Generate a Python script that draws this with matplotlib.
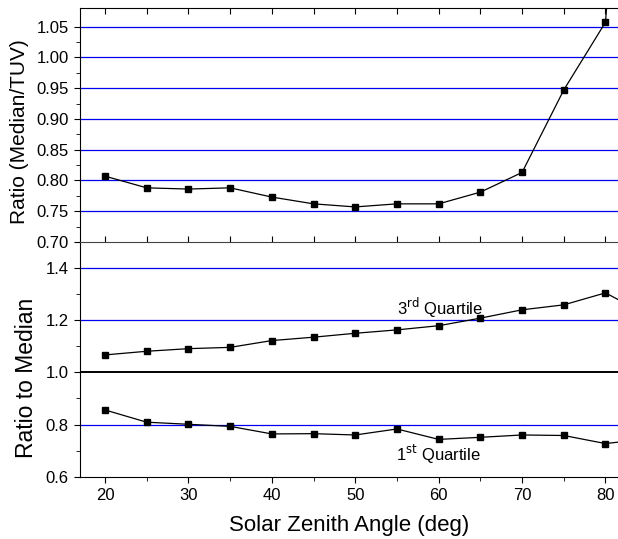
import matplotlib
matplotlib.use('Agg')
import matplotlib.pyplot as plt

plt.rcParams['font.family'] = ['Liberation Sans', 'DejaVu Sans']

sza = [20, 25, 30, 35, 40, 45, 50, 55, 60, 65, 70, 75, 80, 85]
ratio_tuv = [0.807, 0.788, 0.786, 0.788, 0.773, 0.762, 0.757, 0.762, 0.762,
             0.781, 0.813, 0.947, 1.057, 1.93]
q3 = [1.067, 1.081, 1.091, 1.096, 1.122, 1.135, 1.150, 1.163, 1.179,
      1.208, 1.240, 1.259, 1.305, 1.22]
q1 = [0.856, 0.809, 0.801, 0.793, 0.764, 0.765, 0.760, 0.783, 0.743,
      0.751, 0.760, 0.758, 0.727, 0.745]

top_grid = [0.75, 0.80, 0.85, 0.90, 0.95, 1.00, 1.05]
bot_grid = [0.8, 1.2, 1.4]

fig = plt.figure(figsize=(6.18, 5.39), dpi=100)
ax2 = fig.add_axes([0.1294, 0.1156, 0.8706, 0.4354])
ax1 = fig.add_axes([0.1294, 0.551, 0.8706, 0.434])
ax1.patch.set_alpha(0)

xlim = (17, 81.5)

# top panel
for g in top_grid:
    ax1.axhline(g, color='#0000ee', lw=0.9, zorder=1)
ax1.plot(sza, ratio_tuv, color='black', lw=0.9, marker='s', ms=5, zorder=3)
ax1.set_xlim(*xlim)
ax1.set_ylim(0.70, 1.08)
ax1.set_yticks([0.70, 0.75, 0.80, 0.85, 0.90, 0.95, 1.00, 1.05])
ax1.set_yticklabels(['%.2f' % v for v in ax1.get_yticks()])
ax1.set_yticks([0.725 + 0.05 * i for i in range(7)], minor=True)
ax1.set_xticks(range(20, 85, 5))
ax1.tick_params(axis='x', which='both', direction='in', top=True, bottom=True,
                labelbottom=False, length=4)
ax1.tick_params(axis='y', which='major', direction='out', length=4.5, labelsize=12)
ax1.tick_params(axis='y', which='minor', direction='out', length=3)
ax1.spines['right'].set_visible(False)
ax1.spines['bottom'].set_color('#444444')
ax1.set_ylabel('Ratio (Median/TUV)', fontsize=15)
ax1.yaxis.set_label_coords(-0.094, 0.474)

# bottom panel
for g in bot_grid:
    ax2.axhline(g, color='#0000ee', lw=0.9, zorder=1)
ax2.axhline(1.0, color='black', lw=1.4, zorder=1)
ax2.plot(sza, q3, color='black', lw=0.9, marker='s', ms=5, zorder=3)
ax2.plot(sza, q1, color='black', lw=0.9, marker='s', ms=5, zorder=3)
ax2.set_xlim(*xlim)
ax2.set_ylim(0.6, 1.5)
ax2.set_yticks([0.6, 0.8, 1.0, 1.2, 1.4])
ax2.set_yticks([0.7, 0.9, 1.1, 1.3], minor=True)
ax2.set_xticks([20, 30, 40, 50, 60, 70, 80])
ax2.set_xticks([25, 35, 45, 55, 65, 75], minor=True)
ax2.tick_params(which='major', direction='out', length=4.5, labelsize=12)
ax2.tick_params(which='minor', direction='out', length=3)
ax2.spines['right'].set_visible(False)
ax2.spines['top'].set_visible(False)
ax2.set_ylabel('Ratio to Median', fontsize=16.5)
ax2.yaxis.set_label_coords(-0.078, 0.42)
ax2.set_xlabel('Solar Zenith Angle (deg)', fontsize=16, labelpad=9)

ax2.text(60.2, 1.247, '3$^{\\mathrm{rd}}$ Quartile', fontsize=12,
         ha='center', va='center')
ax2.text(60.0, 0.686, '1$^{\\mathrm{st}}$ Quartile', fontsize=12,
         ha='center', va='center')

fig.savefig('out.png', dpi=100)
